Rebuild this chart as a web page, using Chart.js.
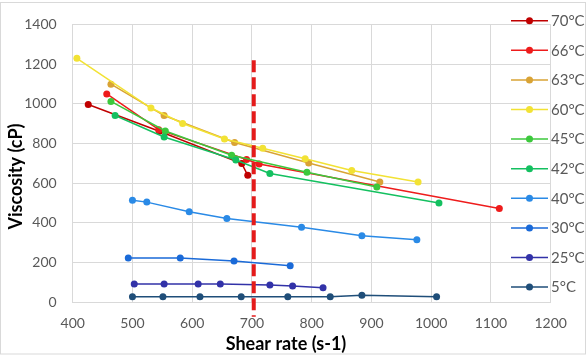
<!DOCTYPE html>
<html>
<head>
<meta charset="utf-8">
<script src="https://cdn.jsdelivr.net/npm/chart.js@4.4.1/dist/chart.umd.min.js"></script>
<style>
  body { margin: 0; background: #fff; }
  #wrap { width: 587px; height: 358px; }
</style>
</head>
<body>
<div id="wrap"><canvas id="myChart" width="587" height="358"></canvas></div>
<script>
// series labels and colours (legend order, top to bottom)
const labels = ['70°C', '66°C', '63°C', '60°C', '45°C', '42°C', '40°C', '30°C', '25°C', '5°C'];
const colors = ['#c00000', '#ee1c1c', '#d9a335', '#f2e234', '#3cc83c', '#14c060', '#2a8ae6', '#1a6ad8', '#3232a8', '#1f4e79'];

// shear rate (s-1) / viscosity (cP)
const shear70 = [426, 545, 683, 693];
const visc70  = [997, 862, 699, 640];
const shear66 = [457, 544, 691, 712, 1114];
const visc66  = [1050, 870, 720, 697, 473];
const shear63 = [464, 553, 671, 795, 914];
const visc63  = [1099, 941, 805, 702, 606];
const shear60 = [407, 531, 584, 654, 718, 789, 867, 978];
const visc60  = [1229, 979, 901, 823, 776, 723, 664, 606];
const shear45 = [464, 555, 666, 792, 909];
const visc45  = [1012, 863, 741, 655, 581];
const shear42 = [471, 553, 673, 730, 1013];
const visc42  = [941, 833, 717, 649, 501];
const shear40 = [500, 524, 595, 658, 783, 884, 976];
const visc40  = [514, 505, 457, 422, 378, 336, 315];
const shear30 = [493, 580, 670, 764];
const visc30  = [223, 223, 209, 185];
const shear25 = [503, 553, 610, 647, 730, 768, 819];
const visc25  = [93, 93, 93, 93, 88, 83, 74];
const shear5  = [500, 551, 613, 682, 760, 831, 884, 1009];
const visc5   = [28, 28, 28, 28, 28, 28, 36, 28];

// red dashed marker line
const markerX = [703, 703];
const markerY = [1220, -72];

const xTicks = [400, 1200, 100]; // min, max, step
const yTicks = [0, 1400, 200];

const shears = [shear70, shear66, shear63, shear60, shear45, shear42, shear40, shear30, shear25, shear5];
const viscs  = [visc70, visc66, visc63, visc60, visc45, visc42, visc40, visc30, visc25, visc5];

const toPoints = (xs, ys) => xs.map((x, i) => ({x: x, y: ys[i]}));

var datasets = labels.map((lab, i) => ({
  label: lab,
  data: toPoints(shears[i], viscs[i]),
  borderColor: colors[i],
  backgroundColor: colors[i],
  borderWidth: 1.5,
  pointRadius: 3.5,
  pointBorderWidth: 0,
  showLine: true,
  order: -i
}));

datasets.push({
  label: 'marker',
  data: toPoints(markerX, markerY),
  borderColor: '#e41b1b',
  borderWidth: 4,
  borderDash: [12, 5],
  pointRadius: 0,
  showLine: true,
  clip: false,
  order: -100
});

const overlay = {
  id: 'overlay',
  afterDraw(chart) {
    const ctx = chart.ctx;
    ctx.save();
    ctx.strokeStyle = '#d9d9d9';
    ctx.lineWidth = 1;
    ctx.strokeRect(0.5, 2.5, 585, 351.5);

    ctx.fillStyle = '#000';
    ctx.font = 'bold 18px Lato';
    ctx.textAlign = 'center';
    ctx.textBaseline = 'middle';
    ctx.fillText('Shear rate (s-1)', 286, 344);
    ctx.save();
    ctx.translate(16, 176.5);
    ctx.rotate(-Math.PI / 2);
    ctx.fillText('Viscosity (cP)', 0, 0);
    ctx.restore();

    // legend
    ctx.font = '15px Lato';
    ctx.textAlign = 'left';
    labels.forEach((lab, i) => {
      const y = 20.7 + i * 29.6;
      ctx.strokeStyle = colors[i];
      ctx.lineWidth = 1.5;
      ctx.beginPath();
      ctx.moveTo(511, y);
      ctx.lineTo(548, y);
      ctx.stroke();
      ctx.fillStyle = colors[i];
      ctx.beginPath();
      ctx.arc(529.5, y, 3.5, 0, Math.PI * 2);
      ctx.fill();
      ctx.fillStyle = '#595959';
      ctx.fillText(lab, 551, y + 0.5);
    });
    ctx.restore();
  }
};

var ctx = document.getElementById('myChart');

const plain = v => String(v);

var myChart = new Chart(ctx, {
  type: 'scatter',
  data: { datasets: datasets },
  options: {
    responsive: false,
    animation: false,
    layout: { padding: { top: 12.7, right: 36.3, left: 0, bottom: 0 } },
    plugins: { legend: { display: false }, tooltip: { enabled: false } },
    scales: {
      x: {
        type: 'linear',
        min: xTicks[0], max: xTicks[1],
        ticks: { stepSize: xTicks[2], color: '#595959', font: { family: 'Lato', size: 14 }, padding: 13, callback: plain },
        grid: { color: '#d9d9d9', drawTicks: false },
        border: { color: '#d9d9d9' },
        afterFit: s => { s.height = 358 - 302.4; }
      },
      y: {
        min: yTicks[0], max: yTicks[1],
        ticks: { stepSize: yTicks[2], color: '#595959', font: { family: 'Lato', size: 14 }, padding: 16, callback: plain },
        grid: { color: '#d9d9d9', drawTicks: false },
        border: { color: '#d9d9d9' },
        afterFit: s => { s.width = 72.7; }
      }
    }
  },
  plugins: [overlay]
});
</script>
</body>
</html>
